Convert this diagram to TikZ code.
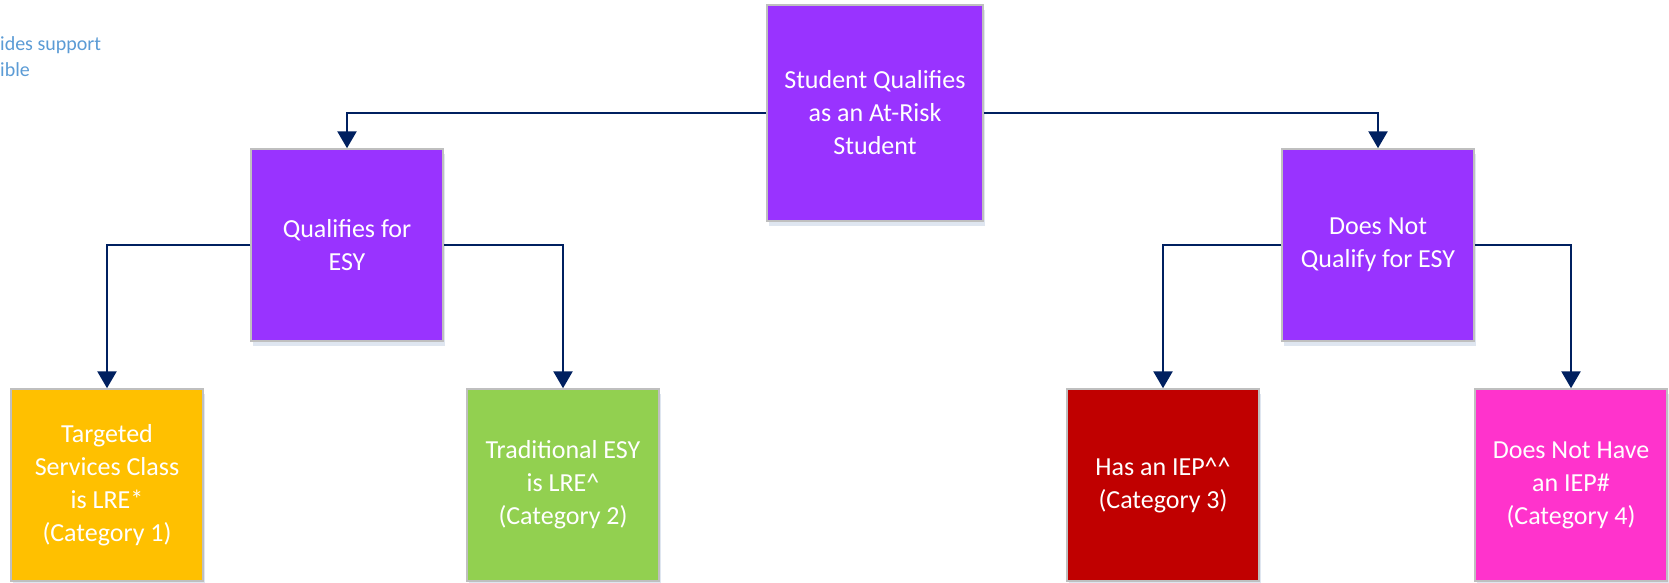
\documentclass[tikz,border=0pt]{standalone}
\usepackage{fontspec}
\setmainfont{Carlito}
\usetikzlibrary{arrows.meta,shadows}
\definecolor{boxpurple}{HTML}{9933FF}
\definecolor{boxorange}{HTML}{FFC000}
\definecolor{boxgreen}{HTML}{92D050}
\definecolor{boxred}{HTML}{C00000}
\definecolor{boxpink}{HTML}{FF33CC}
\definecolor{edgenavy}{HTML}{002060}
\definecolor{bordergray}{HTML}{BFBFBF}
\definecolor{noteblue}{HTML}{5B9BD5}
\definecolor{shadowblue}{HTML}{C9D6E6}
\begin{document}
\begin{tikzpicture}[x=1pt,y=-1pt,
  box/.style={draw=bordergray, line width=1.5pt, inner sep=0pt, align=center,
    text=white, font=\fontsize{26}{33}\selectfont,
    drop shadow={shadow xshift=2pt, shadow yshift=-5pt, fill=shadowblue, opacity=0.6}},
  bigbox/.style={box, minimum width=216pt, minimum height=216pt},
  smallbox/.style={box, minimum width=192pt, minimum height=192pt},
  conn/.style={draw=edgenavy, line width=2.6pt, -{Triangle[length=17pt,width=19pt]}},
  note/.style={text=noteblue, font=\fontsize{20}{24}\selectfont, anchor=base west, inner sep=0pt}
]
\useasboundingbox (0,0) rectangle (1669,582);
\begin{scope}
\clip (0,0) rectangle (1669,582);
\node[note] (n1) at (0,50) {ides support};
\node[note] (n2) at (0,76) {ible};

\node[bigbox, fill=boxpurple] (top) at (875,113) {Student Qualifies\\as an At-Risk\\Student};
\node[smallbox, fill=boxpurple] (qual) at (347,245) {Qualifies for\\ESY};
\node[smallbox, fill=boxpurple] (notq) at (1378,245) {Does Not\\Qualify for ESY};
\node[smallbox, fill=boxorange] (tsc) at (107,485) {Targeted\\Services Class\\is LRE*\\(Category 1)};
\node[smallbox, fill=boxgreen] (trad) at (563,485) {Traditional ESY\\is LRE\^{}\\(Category 2)};
\node[smallbox, fill=boxred] (iep) at (1163,485) {Has an IEP\^{}\^{}\\(Category 3)};
\node[smallbox, fill=boxpink] (noiep) at (1571,485) {Does Not Have\\an IEP\#\\(Category 4)};

\draw[conn] (top.west) -| (qual.north);
\draw[conn] (top.east) -| (notq.north);
\draw[conn] (qual.west) -| (tsc.north);
\draw[conn] (qual.east) -| (trad.north);
\draw[conn] (notq.west) -| (iep.north);
\draw[conn] (notq.east) -| (noiep.north);
\end{scope}
\end{tikzpicture}
\end{document}
